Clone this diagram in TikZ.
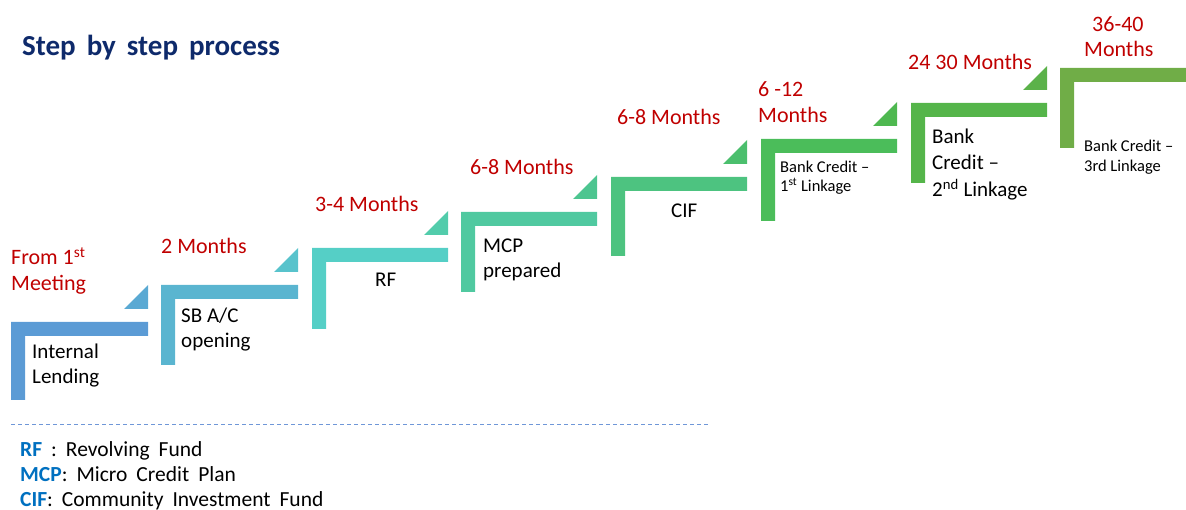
\documentclass[tikz,border=0pt]{standalone}
\usepackage{fontspec}
\setmainfont{Carlito}
\definecolor{cA}{HTML}{5B9BD5}
\definecolor{tA}{HTML}{5AA9D3}
\definecolor{cB}{HTML}{5AB5D0}
\definecolor{tB}{HTML}{58C3CC}
\definecolor{cC}{HTML}{55CFC6}
\definecolor{tC}{HTML}{52CCAB}
\definecolor{cD}{HTML}{50C9A0}
\definecolor{tD}{HTML}{4DC590}
\definecolor{cE}{HTML}{4DC380}
\definecolor{tE}{HTML}{4BBF6D}
\definecolor{cF}{HTML}{4BBD5A}
\definecolor{tF}{HTML}{4EB850}
\definecolor{cG}{HTML}{55B54A}
\definecolor{tG}{HTML}{5BB24A}
\definecolor{cH}{HTML}{70AD47}
\definecolor{redlab}{HTML}{C00000}
\definecolor{navy}{HTML}{0E2A6B}
\definecolor{legblue}{HTML}{0070C0}
\definecolor{dashblue}{HTML}{6F97D8}
\newcommand{\stepshape}[5]{%
  \fill[#5] (#1,#4) -- (#1,#2) -- (#3,#2) -- (#3,#2+14) -- (#1+14,#2+14) -- (#1+14,#4) -- cycle;}
\newcommand{\steptri}[3]{%
  \fill[#3] (#1-24,#2-13) -- (#1,#2-13) -- (#1,#2-37) -- cycle;}
\newcommand{\titlesp}{\spaceskip=11pt plus 1pt\relax}
\newcommand{\legsp}{\spaceskip=9pt plus 1pt\relax}
\tikzset{
  timelab/.style={anchor=base west, inner sep=0pt, text=redlab, font=\fontsize{22}{26}\selectfont, align=left},
  steplab/.style={anchor=base west, inner sep=0pt, text=black, font=\fontsize{21}{25}\selectfont, align=left},
  smalllab/.style={anchor=base west, inner sep=0pt, text=black, font=\fontsize{16.5}{19}\selectfont, align=left},
  leglab/.style={anchor=base west, inner sep=0pt, text=black, font=\fontsize{21.5}{25}\selectfont},
}
\begin{document}
\begin{tikzpicture}[x=1pt,y=-1pt]
\useasboundingbox (0,0) rectangle (1186,510);
% steps
\stepshape{11}{322}{148}{400}{cA}
\stepshape{161}{285}{298}{365}{cB}
\stepshape{312}{248}{448}{329}{cC}
\stepshape{461}{212}{597}{292}{cD}
\stepshape{611}{177}{747}{256}{cE}
\stepshape{761}{139}{897}{221}{cF}
\stepshape{911}{103}{1047}{183}{cG}
\stepshape{1060}{68}{1186}{148}{cH}
% triangles
\steptri{148}{322}{tA}
\steptri{298}{285}{tB}
\steptri{448}{248}{tC}
\steptri{597}{212}{tD}
\steptri{747}{177}{tE}
\steptri{897}{139}{tF}
\steptri{1047}{103}{tG}
% title
\node[anchor=base west, inner sep=0pt, text=navy, font=\fontsize{29}{34}\selectfont\bfseries] (title) at (22,56) {\titlesp Step by step process};
% time labels
\node[timelab] (t1a) at (11,265) {From 1\textsuperscript{st}};
\node[timelab] (t1b) at (11,291) {Meeting};
\node[timelab] (t2) at (161,254) {2 Months};
\node[timelab] (t3) at (315,212) {3-4 Months};
\node[timelab] (t4) at (470,175) {6-8 Months};
\node[timelab] (t5) at (617,125) {6-8 Months};
\node[timelab] (t6a) at (758,97) {6 -12};
\node[timelab] (t6b) at (758,123) {Months};
\node[timelab] (t7) at (908,70) {24 30 Months};
\node[timelab] (t8a) at (1092,32) {36-40};
\node[timelab] (t8b) at (1084,57) {Months};
% step labels
\node[steplab] (s1a) at (32,359) {Internal};
\node[steplab] (s1b) at (32,384) {Lending};
\node[steplab] (s2a) at (181,323) {SB A/C};
\node[steplab] (s2b) at (181,348) {opening};
\node[steplab] (s3) at (375,287) {RF};
\node[steplab] (s4a) at (483,253) {MCP};
\node[steplab] (s4b) at (483,278) {prepared};
\node[steplab] (s5) at (671,218) {CIF};
\node[smalllab] (s6a) at (780,173) {Bank Credit –};
\node[smalllab] (s6b) at (780,192) {1\textsuperscript{st} Linkage};
\node[steplab] (s7a) at (932,144) {Bank};
\node[steplab] (s7b) at (932,170) {Credit –};
\node[steplab] (s7c) at (932,197) {2\textsuperscript{nd} Linkage};
\node[smalllab] (s8a) at (1084,152) {Bank Credit –};
\node[smalllab] (s8b) at (1084,172) {3rd Linkage};
% legend
\coordinate (dl) at (11,424);
\coordinate (dr) at (708,424);
\draw[dashblue, line width=0.8pt, dash pattern=on 4pt off 3pt] (dl) -- (dr);
\node[leglab] (l1) at (20,456) {\legsp\textbf{\color{legblue}RF} : Revolving Fund};
\node[leglab] (l2) at (20,481) {\legsp\textbf{\color{legblue}MCP}: Micro Credit Plan};
\node[leglab] (l3) at (20,506) {\legsp\textbf{\color{legblue}CIF}: Community Investment Fund};
\end{tikzpicture}
\end{document}
